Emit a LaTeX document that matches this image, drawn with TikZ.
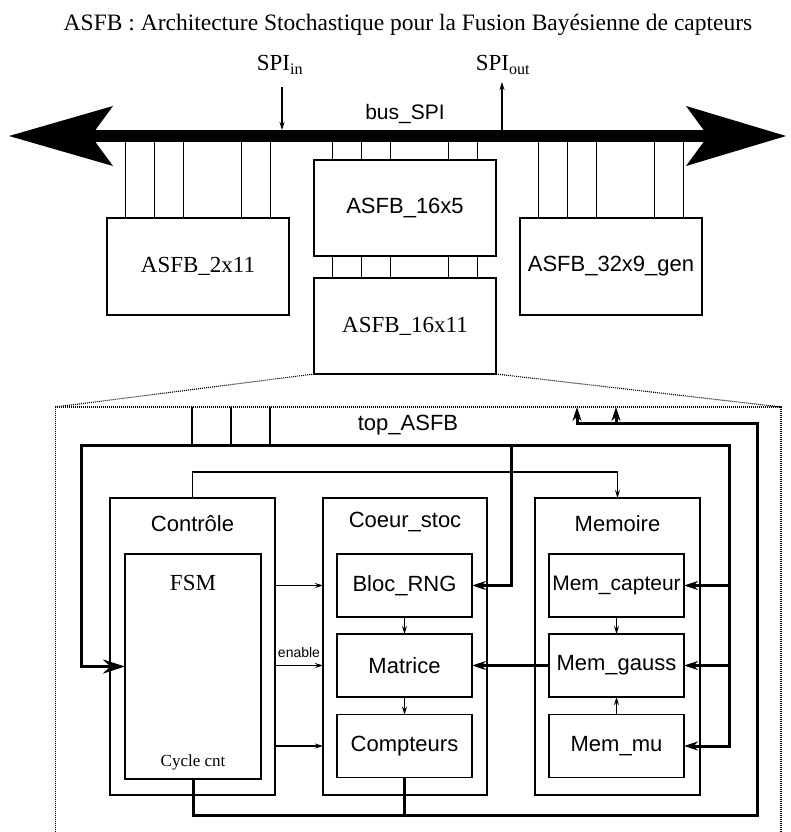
\documentclass[tikz,border=0pt]{standalone}
\usepackage{fontspec}
\setmainfont{Liberation Serif}
\setsansfont{Liberation Sans}
\usetikzlibrary{arrows.meta}

\tikzset{
  blk/.style={draw, line width=1.4pt, inner sep=0pt, outer sep=0pt},
  lbl/.style={font=\sffamily\fontsize{22}{26}\selectfont},
  rlbl/.style={font=\fontsize{23}{26}\selectfont},
  wire/.style={line width=1.2pt},
  fat/.style={line width=3pt},
  tip/.style={-{Stealth[length=8pt,width=5pt]}},
  fattip/.style={-{Stealth[length=14pt,width=9pt]}},
  dotframe/.style={line width=1.1pt, dash pattern=on 1pt off 1pt},
}

\begin{document}
\begin{tikzpicture}[x=1pt,y=-1pt]
\useasboundingbox (0,0) rectangle (790,832);

% titre
\node[font=\fontsize{23.5}{26}\selectfont] (titre) at (408,25)
  {ASFB : Architecture Stochastique pour la Fusion Bayésienne de capteurs};

% bus SPI
\coordinate (busW) at (9,136);
\coordinate (busE) at (786,136);
\draw[line width=11pt,
  {Stealth[length=104pt,width=60pt,inset=22pt,line width=0pt]}-{Stealth[length=100pt,width=60pt,inset=22pt,line width=0pt]}]
  (busW) -- (busE);
\node[lbl, font=\sffamily\fontsize{21}{24}\selectfont] (buslbl) at (405,114) {bus\_SPI};

\node[rlbl] (spiin) at (280,65) {SPI\textsubscript{in}};
\node[rlbl] (spiout) at (503,65) {SPI\textsubscript{out}};
\coordinate (inA) at (282,87);
\coordinate (inB) at (282,130);
\coordinate (outA) at (502,130);
\coordinate (outB) at (502,82);
\draw[wire,tip] (inA) -- (inB);
\draw[wire,tip] (outA) -- (outB);

% blocs ASFB
\node[blk, rlbl, minimum width=182pt, minimum height=97pt] (a2x11) at (198,266.5) {ASFB\_2x11};
\node[blk, lbl, minimum width=182pt, minimum height=96pt] (a16x5) at (405,208) {ASFB\_16x5};
\node[blk, lbl, minimum width=182pt, minimum height=97pt] (a32x9) at (611,266.5) {ASFB\_32x9\_gen};
\node[blk, rlbl, minimum width=182pt, minimum height=96pt] (a16x11) at (405,326) {ASFB\_16x11};

\foreach \bx in {a2x11,a16x5,a32x9}{
  \foreach \dx in {18.5,47.5,76.5,134.5,163.5}
    \draw[wire] ([xshift=\dx pt]\bx.north west) coordinate (p) -- (p |- busW);
}
\foreach \dx in {18.5,47.5,76.5,134.5,163.5}
  \draw[wire] ([xshift=\dx pt]a16x11.north west) coordinate (p) -- (p |- a16x5.south);

% zoom sur top_ASFB
\coordinate (topNW) at (55.5,407);
\coordinate (topNE) at (781,407);
\coordinate (topSW) at (55.5,832);
\coordinate (topSE) at (781,832);
\draw[dotframe] (topSW) -- (topNW) -- (topNE) -- (topSE);
\draw[dotframe] (a16x11.south west) -- (topNW);
\draw[dotframe] (a16x11.south east) -- (topNE);
\node[lbl] (toplbl) at (408,425) {top\_ASFB};

% modules
\node[blk, minimum width=165pt, minimum height=297pt] (ctrl) at (192.5,646.5) {};
\node[blk, minimum width=164pt, minimum height=297pt] (coeur) at (405,646.5) {};
\node[blk, minimum width=165pt, minimum height=297pt] (memo) at (617.5,646.5) {};
\node[lbl] (ctrllbl) at (192.5,524) {Contrôle};
\node[lbl] (coeurlbl) at (405,522) {Coeur\_stoc};
\node[lbl] (memolbl) at (617.5,524) {Memoire};

\node[blk, minimum width=136pt, minimum height=225pt] (fsm) at (193,666.5) {};
\node[rlbl] (fsmlbl) at (193,583) {FSM};
\node[font=\fontsize{17}{20}\selectfont] (cycle) at (193,762) {Cycle cnt};

\node[blk, lbl, minimum width=135pt, minimum height=63pt] (rng) at (404.5,585.5) {Bloc\_RNG};
\node[blk, lbl, minimum width=135pt, minimum height=63pt] (matrice) at (404.5,665.5) {Matrice};
\node[blk, lbl, minimum width=135pt, minimum height=63pt] (compteurs) at (404.5,746) {Compteurs};
\node[blk, lbl, font=\sffamily\fontsize{21}{24}\selectfont, minimum width=135pt, minimum height=63pt] (memcap) at (616.5,585.5) {Mem\_capteur};
\node[blk, lbl, minimum width=135pt, minimum height=63pt] (memgauss) at (616.5,665.5) {Mem\_gauss};
\node[blk, lbl, minimum width=135pt, minimum height=63pt] (memmu) at (616.5,746) {Mem\_mu};

% liaisons internes
\foreach \n in {rng,matrice,compteurs}
  \draw[wire,tip] (ctrl.east |- \n) -- (coeur.west |- \n);
\node[font=\sffamily\fontsize{14}{16}\selectfont] (enable) at (299,652) {enable};
\draw[wire,tip] (rng) -- (matrice);
\draw[wire,tip] (matrice) -- (compteurs);
\draw[wire,tip] (memcap) -- (memgauss);
\draw[wire,tip] (memmu) -- (memgauss);
\draw[wire,tip] (ctrl.north) -- ++(0,-26) -| (memo.north);

% bus interne
\coordinate (busTL) at (81,445);
\coordinate (busTR) at (729,445);
\coordinate (rngtap) at (511,445);
\foreach \x in {192,231,270}
  \draw[wire] (\x,0 |- topNW) -- (\x,0 |- busTL);
\draw[fat, {Stealth[length=22pt,width=14pt]}-{Stealth[length=14pt,width=9pt]}]
  (fsm.west) -| (busTL) -- (busTR) |- (memmu.east);
\draw[fat,fattip] (busTR |- memcap.east) -- (memcap.east);
\draw[fat,fattip] (busTR |- memgauss.east) -- (memgauss.east);
\draw[fat,fattip] (rngtap) |- (rng.east);
\draw[fat,fattip] (memgauss.west) -- (matrice.east);

% sorties
\coordinate (outSE) at (757,815);
\coordinate (outNE) at (757,423);
\coordinate (outP) at (577,423);
\coordinate (outQ) at (616,423);
\draw[fat,fattip] (fsm.south) |- (outSE) -- (outNE) -- (outP) -- (outP |- topNW);
\draw[fat,fattip] (outQ) -- (outQ |- topNW);
\draw[fat] (compteurs.south) -- (compteurs.south |- outSE);

\end{tikzpicture}
\end{document}
